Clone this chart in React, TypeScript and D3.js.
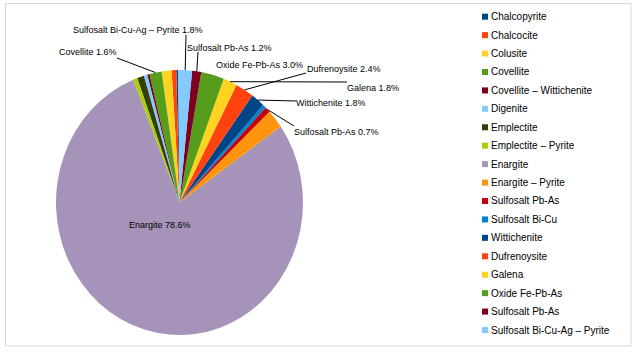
import React from "react";
import * as d3 from "d3";

// minerals, in the order they are listed in the legend
const minerals = [
  "Chalcopyrite",
  "Chalcocite",
  "Colusite",
  "Covellite",
  "Covellite – Wittichenite",
  "Digenite",
  "Emplectite",
  "Emplectite – Pyrite",
  "Enargite",
  "Enargite – Pyrite",
  "Sulfosalt Pb-As",
  "Sulfosalt Bi-Cu",
  "Wittichenite",
  "Dufrenoysite",
  "Galena",
  "Oxide Fe-Pb-As",
  "Sulfosalt Pb-As",
  "Sulfosalt Bi-Cu-Ag – Pyrite",
];

// share of each mineral, percent
const shares = [0.25, 0.6, 1.3, 1.6, 0.3, 0.45, 0.9, 0.55, 78.6, 2.3, 0.7, 0.45, 1.8, 2.4, 1.8, 3.0, 1.2, 1.8];

const colors = [
  "#004586", "#ff420e", "#ffd320", "#579d1c", "#7e0021", "#83caff",
  "#314004", "#aecf00", "#a693ba", "#ff950e", "#c5000b", "#0084d1",
  "#004586", "#ff420e", "#ffd320", "#579d1c", "#7e0021", "#83caff",
];

// where the data labels sit (index -> text start, text middle, leader end)
const labelLayout: Record<number, { x: number; y: number; end?: [number, number] }> = {
  3: { x: 59, y: 52, end: [117, 58] },
  8: { x: 129, y: 225 },
  10: { x: 294, y: 132, end: [294, 126] },
  12: { x: 296, y: 103, end: [296, 101] },
  13: { x: 307, y: 69, end: [306, 73] },
  14: { x: 347, y: 88, end: [347, 82] },
  15: { x: 216, y: 65 },
  16: { x: 187, y: 48, end: [198, 52] },
  17: { x: 73, y: 30, end: [186, 35] },
};

const font = "'Liberation Sans', Arial, sans-serif";

export default function App() {
  const width = 638;
  const height = 352;
  const cx = 179.5;
  const cy = 202.5;
  const ry = 132.5;
  const sx = 123.5 / 132.5; // the picture is a bit squashed sideways

  const a0 = (-0.6 * Math.PI) / 180;
  const pie = d3.pie<number>().sort(null).value((d) => d).startAngle(a0).endAngle(a0 - 2 * Math.PI);
  const arcs = pie(shares);
  const arc = d3.arc<d3.PieArcDatum<number>>().innerRadius(0).outerRadius(ry);
  const total = d3.sum(shares);
  const fmt = d3.format(".1f");

  function rim(d: d3.PieArcDatum<number>): [number, number] {
    const m = (d.startAngle + d.endAngle) / 2;
    return [cx + Math.sin(m) * ry * sx, cy - Math.cos(m) * ry];
  }

  const legendY = d3.scalePoint<number>().domain(d3.range(minerals.length)).range([16.7, 330]);

  return (
    <svg width={width} height={height} style={{ position: "absolute", left: 0, top: 0, background: "#fff" }}>
      <rect x={5.5} y={3.5} width={625.5} height={342.5} fill="#fff" stroke="#d9d9d9" />
      <g transform={`translate(${cx},${cy}) scale(${sx},1)`}>
        {arcs.map((d, i) => (
          <path key={i} d={arc(d) || ""} fill={colors[i]} />
        ))}
      </g>
      {arcs.map((d, i) => {
        const lay = labelLayout[i];
        if (!lay) return null;
        const [px, py] = rim(d);
        return (
          <g key={i}>
            {lay.end && <line x1={px} y1={py} x2={lay.end[0]} y2={lay.end[1]} stroke="#000" strokeWidth={1} />}
            <text x={lay.x} y={lay.y} dominantBaseline="central" fontFamily={font} fontSize={9} fill="#000">
              {minerals[i] + " " + fmt((shares[i] / total) * 100) + "%"}
            </text>
          </g>
        );
      })}
      <g fontFamily={font} fontSize={10} fill="#000">
        {minerals.map((m, i) => (
          <g key={i} transform={`translate(482,${legendY(i)})`}>
            <rect x={0} y={-3} width={6} height={6} fill={colors[i]} />
            <text x={9} y={0} dominantBaseline="central">{m}</text>
          </g>
        ))}
      </g>
    </svg>
  );
}
